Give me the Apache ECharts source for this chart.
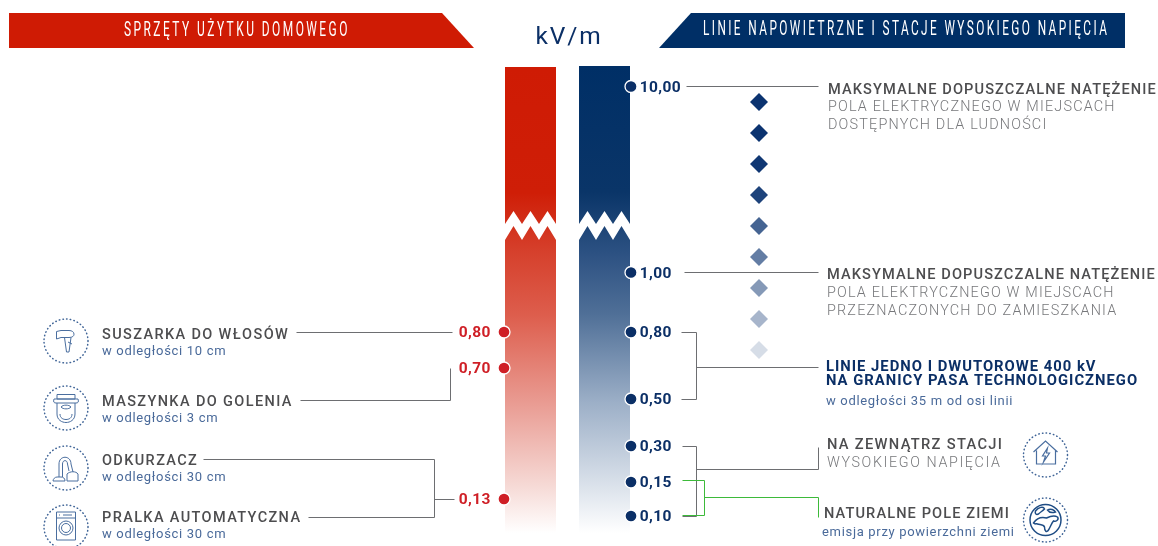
<!DOCTYPE html>
<html lang="pl">
<head>
<meta charset="utf-8">
<title>Natężenie pola elektrycznego</title>
<style>html,body{margin:0;padding:0;background:#fff}#chart{width:1158px;height:546px}</style>
<script src="https://cdn.jsdelivr.net/npm/echarts@6/dist/echarts.min.js"></script>
</head>
<body>
<div id="chart"></div>
<script>
// Household appliances (red column)
const applianceNames = ['SUSZARKA DO WŁOSÓW', 'MASZYNKA DO GOLENIA', 'ODKURZACZ', 'PRALKA AUTOMATYCZNA'];
const applianceDistances = ['w odległości 10 cm', 'w odległości 3 cm', 'w odległości 30 cm', 'w odległości 30 cm'];
const applianceValues = [0.80, 0.70, 0.13];

// Overhead lines and substations (blue column)
const gridValues = [10, 1, 0.80, 0.50, 0.30, 0.15, 0.10];

// Fading diamond ladder between the two legal limits
const diamondOpacity = [1, 1, 0.98, 0.92, 0.76, 0.64, 0.5, 0.36, 0.17];

const RED = '#cf1b04', NAVY = '#0b2f66', GREY = '#4d4d4f', LIGHT = '#77787b', SUB = '#4a6a9a', GREEN = '#3dba3a', LEADER = '#6d6e71';

// The value scale is schematic: piecewise between the quoted values, with a break above 1 kV/m.
const scaleStops = [[11, 66], [10.95, 67], [10, 86.5], [1, 272.5], [0.8, 332], [0.7, 368], [0.5, 399], [0.3, 446], [0.15, 482], [0.13, 499], [0.1, 516], [0, 533]];
function ladder(v) {
  for (let i = 0; i < scaleStops.length - 1; i++) {
    const a = scaleStops[i], b = scaleStops[i + 1];
    if (v <= a[0] && v >= b[0]) return a[1] + (a[0] - v) / (a[0] - b[0]) * (b[1] - a[1]);
  }
  return scaleStops[0][1];
}
const fmt = v => v.toFixed(2).replace('.', ',');

// Tracking per font size, applied when text is painted on the canvas
const trackingBySize = { 19.5: 4, 24.5: 1.9, 15.5: 0.4, 14.5: 1.38, 14.6: 1.1, 14.7: 1.3, 14.4: 1.18, 14.3: 1.62, 14.8: 1.0, 13: 0.68 };
const paintText = CanvasRenderingContext2D.prototype.fillText;
CanvasRenderingContext2D.prototype.fillText = function (t, x, y, m) {
  const match = /([\d.]+)px/.exec(this.font);
  this.letterSpacing = ((match && trackingBySize[parseFloat(match[1])]) || 0) + 'px';
  if (m === undefined) paintText.call(this, t, x, y); else paintText.call(this, t, x, y, m);
  this.letterSpacing = '0px';
};

const FONT_BANNER = '400 19.5px Roboto';
const FONT_HEAD = '500 14.5px Roboto';
const FONT_HEAD_TIGHT = '500 14.6px Roboto';
const FONT_HEAD_WIDE = '500 14.7px Roboto';
const FONT_LIGHT = '300 14.4px Roboto';
const FONT_LIGHT_WIDE = '300 14.3px Roboto';
const FONT_BOLD = '700 14.8px Roboto';
const FONT_SUB = '400 13px Roboto';

function text(str, x, y, font, fill, align) {
  return { type: 'text', z: 50, silent: true, style: { text: str, x, y: y + 1.2, font, fill, textAlign: align || 'left', textVerticalAlign: 'middle' } };
}
// Condensed caption: Roboto narrowed horizontally around its left edge
function bannerText(str, x, y, squeeze) {
  return { type: 'text', z: 50, silent: true, x, y, scaleX: squeeze, style: { text: str, x: 0, y: 0, font: FONT_BANNER, fill: '#fff', textAlign: 'left', textVerticalAlign: 'middle' } };
}

const captions = [
  bannerText('SPRZĘTY UŻYTKU DOMOWEGO', 124, 31, 0.613),
  bannerText('LINIE NAPOWIETRZNE I STACJE WYSOKIEGO NAPIĘCIA', 703, 30.5, 0.605),
  text('kV/m', 569, 36.5, '400 24.5px Roboto', NAVY, 'center'),

  text(applianceNames[0], 102, 334, FONT_HEAD, GREY),
  text(applianceDistances[0], 102, 351, FONT_SUB, SUB),
  text(applianceNames[1], 102, 401, FONT_HEAD, GREY),
  text(applianceDistances[1], 102, 418, FONT_SUB, SUB),
  text(applianceNames[2], 102, 460, FONT_HEAD, GREY),
  text(applianceDistances[2], 102, 477, FONT_SUB, SUB),
  text(applianceNames[3], 102, 517.5, FONT_HEAD, GREY),
  text(applianceDistances[3], 102, 534, FONT_SUB, SUB),

  text('MAKSYMALNE DOPUSZCZALNE NATĘŻENIE', 828, 89, FONT_HEAD_TIGHT, GREY),
  text('POLA ELEKTRYCZNEGO W MIEJSCACH', 828, 106.5, FONT_LIGHT, LIGHT),
  text('DOSTĘPNYCH DLA LUDNOŚCI', 828, 124.5, FONT_LIGHT, LIGHT),

  text('MAKSYMALNE DOPUSZCZALNE NATĘŻENIE', 827, 274.5, FONT_HEAD_TIGHT, GREY),
  text('POLA ELEKTRYCZNEGO W MIEJSCACH', 827, 292, FONT_LIGHT, LIGHT),
  text('PRZEZNACZONYCH DO ZAMIESZKANIA', 827, 310.5, FONT_LIGHT, LIGHT),

  text('LINIE JEDNO I DWUTOROWE 400 kV', 826, 366, FONT_BOLD, NAVY),
  text('NA GRANICY PASA TECHNOLOGICZNEGO', 826, 380.5, FONT_BOLD, NAVY),
  text('w odległości 35 m od osi linii', 826, 401, FONT_SUB, SUB),

  text('NA ZEWNĄTRZ STACJI', 827, 444.5, FONT_HEAD_WIDE, GREY),
  text('WYSOKIEGO NAPIĘCIA', 827, 462.5, FONT_LIGHT_WIDE, LIGHT),

  text('NATURALNE POLE ZIEMI', 824, 513, FONT_HEAD_TIGHT, GREY),
  text('emisja przy powierzchni ziemi', 822, 531.5, FONT_SUB, SUB)
];

const banners = [
  { type: 'polygon', z: 5, silent: true, shape: { points: [[9, 13], [442, 13], [474, 48], [9, 48]] }, style: { fill: RED } },
  { type: 'polygon', z: 5, silent: true, shape: { points: [[691, 13], [1125, 13], [1125, 48], [659, 48]] }, style: { fill: '#002f66' } }
];

// Line-art icons, each inside a dotted ring
const iconPaths = {
  dryer: 'M-9.5,-9.5 V-2 L-5,-3.5 H3 C6.5,-3.5 8,-5 8,-6.8 C8,-9 6,-10.5 3,-10.5 H-5 Z M-1.5,-3.5 L0.5,11 H3 L5,-3.5 M2,1 L6,3',
  razor: 'M-9,-13.5 H9 V-9 H-9 Z M-12,-9 H12 C13,-6 12,-5 10,-5 H-10 C-12,-5 -13,-6 -12,-9 Z M-9,-5 V6 C-9,12 -4,14.5 0,14.5 C4,14.5 9,12 9,6 V-5 M-5,-1 C-3,-3.5 3,-3.5 5,-1 C3,1.5 -3,1.5 -5,-1 Z M-6,6 C-6,10 -3,11.5 0,11.5 C3,11.5 6,10 6,6',
  vacuum: 'M-7,9 V-4 C-7,-13 5,-13 5,-4 L7,4 M-3.5,9 V-4 C-3.5,-8.5 1.5,-8.5 1.5,-4 L3,3 M-13,13 H-1 C-1,10 -3,9 -5,9 H-9 C-11,9 -13,11 -13,13 Z M1,13 V6 C4,3 10,3 12,6 V13 Z',
  washer: 'M-9.5,-15 H9.5 V13 H-9.5 Z M-9.5,-9 H9.5 M-7,-12 H-6 M-3,-12 H6 M7,1 A7,7 0 1 1 -7,1 A7,7 0 1 1 7,1 Z M4.5,1 A4.5,4.5 0 1 1 -4.5,1 A4.5,4.5 0 1 1 4.5,1 Z',
  house: 'M-12,-3 L0,-14 L12,-3 M-9,-4.5 V9 H10 V-4.5 M2,-7 L-3,1 H0 L-2,7 L4,-2 H1 Z',
  globe: 'M15.5,0 A15.5,15.5 0 1 1 -15.5,0 A15.5,15.5 0 1 1 15.5,0 Z M-10,-9 C-7,-13 -2,-14 -1,-11 C-3,-9 -5,-8 -7,-6 C-9,-5 -11,-6 -10,-9 Z M-12,3 C-8,-3 -3,-3 1,-2 C5,-4 9,-5 12,-3 C14,0 10,2 8,1 C6,3 5,7 3,10 C1,13 -1,11 -1,7 C-2,4 -6,5 -8,4 C-10,3 -10,5 -12,3 Z M2,-10 C5,-12 9,-10 10,-8 C7,-7 4,-7 2,-10 Z'
};
const iconPlacement = [
  ['dryer', 66, 341, 1], ['razor', 66, 408, 1], ['vacuum', 66, 468, 1], ['washer', 66, 527, 1],
  ['house', 1045.5, 455, 1.2], ['globe', 1045.5, 520, 1.5]
];

// Gradient columns, faded out towards zero
function columnFill(stops) {
  return new echarts.graphic.LinearGradient(0, 0, 0, 1, stops.map(([offset, color]) => ({ offset, color })));
}
const columns = [
  { left: 505, right: 556, top: 10.95, stops: [[0, '#cf1b04'], [0.27, '#cf1e07'], [0.4, '#d6412d'], [0.53, '#dd5d4c'], [0.72, '#e99b92'], [0.9, '#f6dad6'], [1, '#ffffff']] },
  { left: 579, right: 630, top: 11, stops: [[0, '#002f66'], [0.27, '#0a3568'], [0.4, '#2c5182'], [0.53, '#4f6f97'], [0.72, '#9cafc7'], [0.9, '#dbe2eb'], [1, '#ffffff']] }
];

// White zigzag marking the break in the scale
const breakUpper = [0, 224, 8.5, 211, 17, 224, 25.5, 211, 34, 224, 42.5, 211, 51, 224];
const breakLower = [51, 240, 42.5, 226, 34, 240, 25.5, 226, 17, 240, 8.5, 226, 0, 240];

// Leader lines in axis units; values go through the same scale as the dots
const L = ladder;
const leaders = [
  { c: LEADER, p: [[296, L(0.8)], [452, L(0.8)]] },
  { c: LEADER, p: [[300, 400.5], [450.5, 400.5], [450.5, L(0.7)]] },
  { c: LEADER, p: [[203, 459.5], [434.5, 459.5], [434.5, 517.5], [308, 517.5]] },
  { c: LEADER, p: [[434.5, L(0.13)], [454, L(0.13)]] },
  { c: LEADER, p: [[686, L(10)], [818, L(10)]] },
  { c: LEADER, p: [[684.5, L(1)], [818, L(1)]] },
  { c: LEADER, p: [[681, L(0.8)], [696, L(0.8)], [696, L(0.5)], [681, L(0.5)]] },
  { c: LEADER, p: [[696, 367.5], [818, 367.5]] },
  { c: LEADER, p: [[682, L(0.3)], [696, L(0.3)], [696, L(0.1)], [682, L(0.1)]] },
  { c: LEADER, p: [[696, 469.5], [818.5, 469.5], [818.5, 447]] },
  { c: GREEN, p: [[682, 480], [704.5, 480], [704.5, 515], [682, 515]] },
  { c: GREEN, p: [[704.5, 497.5], [818.5, 497.5], [818.5, 517]] }
];

const chart = echarts.init(document.getElementById('chart'), null, { renderer: 'canvas' });
chart.setOption({
  animation: false,
  backgroundColor: '#fff',
  grid: { left: 0, right: 0, top: 0, bottom: 0 },
  xAxis: { type: 'value', min: 0, max: 1158, show: false },
  yAxis: { type: 'value', min: 0, max: 546, inverse: true, show: false },
  graphic: { elements: banners.concat(captions) },
  series: [
    {
      type: 'custom', coordinateSystem: 'cartesian2d', silent: true, z: 1, clip: false,
      data: columns.map((c, i) => [i]),
      renderItem(params, api) {
        const c = columns[api.value(0)];
        const tl = api.coord([c.left, ladder(c.top)]);
        const br = api.coord([c.right, ladder(0)]);
        const zig = breakUpper.concat(breakLower);
        const points = [];
        for (let i = 0; i < zig.length; i += 2) points.push(api.coord([c.left + zig[i], zig[i + 1]]));
        return {
          type: 'group',
          children: [
            { type: 'rect', shape: { x: tl[0], y: tl[1], width: br[0] - tl[0], height: br[1] - tl[1] }, style: { fill: columnFill(c.stops) } },
            { type: 'polygon', shape: { points }, style: { fill: '#fff' } }
          ]
        };
      }
    },
    {
      type: 'custom', coordinateSystem: 'cartesian2d', silent: true, z: 2, clip: false,
      data: leaders.map((l, i) => [i]),
      renderItem(params, api) {
        const l = leaders[api.value(0)];
        return {
          type: 'polyline',
          shape: { points: l.p.map(pt => api.coord(pt).map(n => Math.round(n - 0.5) + 0.5)) },
          style: { fill: 'none', stroke: l.c, lineWidth: 1 }
        };
      }
    },
    {
      type: 'custom', coordinateSystem: 'cartesian2d', silent: true, z: 2, clip: false,
      data: iconPlacement.map((c, i) => [i]),
      renderItem(params, api) {
        const [name, x, y, w] = iconPlacement[api.value(0)];
        const c = api.coord([x, y]);
        return {
          type: 'group',
          children: [
            { type: 'circle', shape: { cx: c[0], cy: c[1], r: 22 },
              style: { fill: 'none', stroke: '#3f6497', lineWidth: 1.5, lineDash: [0.5, 3.2], lineCap: 'round' } },
            { type: 'path', x: c[0], y: c[1], shape: { pathData: iconPaths[name] },
              style: { fill: 'none', stroke: name === 'globe' ? '#1f4d85' : '#4a6e9f', lineWidth: w } }
          ]
        };
      }
    },
    {
      type: 'scatter', name: 'Poziom wygaszania', symbol: 'diamond', symbolSize: [18, 18], z: 3, silent: true,
      data: diamondOpacity.map((o, i) => ({ value: [759, 102 + 31 * i], itemStyle: { color: '#0b3370', opacity: o } }))
    },
    {
      type: 'scatter', name: 'Sprzęty użytku domowego', symbol: 'circle', symbolSize: 12, z: 4, silent: true,
      itemStyle: { color: '#cf1f26', borderColor: '#fff', borderWidth: 1.3, opacity: 1 },
      label: { show: true, position: 'left', distance: 6.5, offset: [0, 1.5], fontFamily: 'Roboto', fontWeight: 700, fontSize: 15.5, color: '#cf1f26', formatter: p => fmt(p.data.raw) },
      data: applianceValues.map(v => ({ value: [504, ladder(v)], raw: v }))
    },
    {
      type: 'scatter', name: 'Linie napowietrzne i stacje', symbol: 'circle', symbolSize: 12, z: 4, silent: true,
      itemStyle: { color: NAVY, borderColor: '#fff', borderWidth: 1.3, opacity: 1 },
      label: { show: true, position: 'right', distance: 2, offset: [0, 1.5], fontFamily: 'Roboto', fontWeight: 700, fontSize: 15.5, color: NAVY, formatter: p => fmt(p.data.raw) },
      data: gridValues.map(v => ({ value: [631, ladder(v)], raw: v }))
    }
  ]
});
</script>
</body>
</html>
